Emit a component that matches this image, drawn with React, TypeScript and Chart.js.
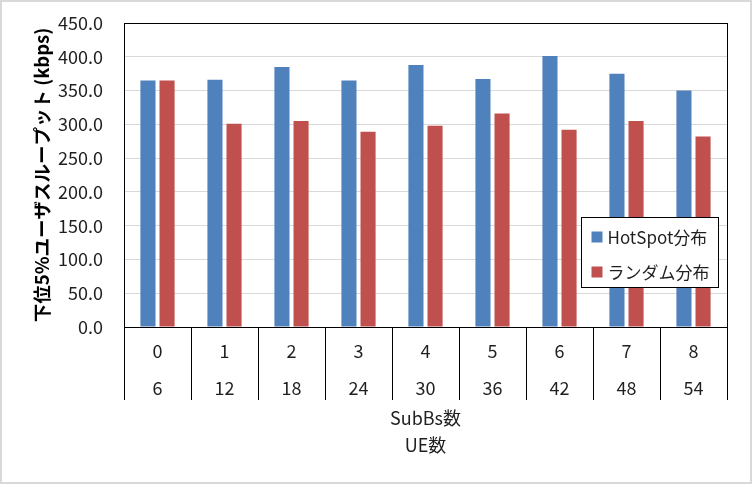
import React, { useEffect, useRef } from 'react'
import { Chart, registerables } from 'chart.js'

Chart.register(...registerables)

const subBsCounts = ['0', '1', '2', '3', '4', '5', '6', '7', '8']
const ueCounts = ['6', '12', '18', '24', '30', '36', '42', '48', '54']
const hotspotValues = [365, 366, 385, 365, 388, 367, 401, 375, 350]
const randomValues = [365, 301, 305, 289, 298, 316, 292, 305, 282]
const seriesNames = ['HotSpot分布', 'ランダム分布']
const seriesColors = ['#4F81BD', '#C0504D']

const FONT = '"Noto Sans CJK JP", "Noto Sans", sans-serif'

// black frame round the plot area, then the legend box inside it
const framePlugin = {
  id: 'frame',
  afterDraw(chart: Chart) {
    const { ctx, chartArea } = chart
    const { left, top, right, bottom } = chartArea
    ctx.save()
    ctx.strokeStyle = '#000'
    ctx.lineWidth = 1
    ctx.strokeRect(Math.round(left) + 0.5, Math.round(top) + 0.5, Math.round(right - left), Math.round(bottom - top))

    const boxW = 137
    const boxH = 70
    const bx = Math.round(right - 9 - boxW) + 0.5
    const by = Math.round(top + 194) + 0.5
    ctx.fillStyle = '#fff'
    ctx.fillRect(bx, by, boxW, boxH)
    ctx.strokeRect(bx, by, boxW, boxH)

    ctx.font = `17px ${FONT}`
    ctx.textBaseline = 'middle'
    ctx.textAlign = 'left'
    chart.data.datasets.forEach((ds, i) => {
      const cy = by + 19 + i * 35
      ctx.fillStyle = ds.backgroundColor as string
      ctx.fillRect(bx + 10, cy - 5, 11, 11)
      ctx.fillStyle = '#1f1f1f'
      ctx.fillText(ds.label ?? '', bx + 26, cy + 1)
    })
    ctx.restore()
  },
}

const App = () => {
  const chartRef = useRef<HTMLCanvasElement>(null)

  useEffect(() => {
    document.body.style.margin = '0'
    if (!chartRef.current) return
    const ctx = chartRef.current.getContext('2d')
    if (!ctx) return

    const chart = new Chart(ctx, {
      type: 'bar',
      data: {
        labels: subBsCounts.map((s, i) => [s, ueCounts[i]]),
        datasets: [
          { label: seriesNames[0], data: hotspotValues, backgroundColor: seriesColors[0] },
          { label: seriesNames[1], data: randomValues, backgroundColor: seriesColors[1] },
        ],
      },
      options: {
        animation: false,
        responsive: false,
        layout: { padding: { left: 0, top: 21, right: 23, bottom: 0 } },
        datasets: {
          bar: { categoryPercentage: 0.57, barPercentage: 0.79 },
        },
        plugins: {
          legend: { display: false },
          tooltip: { enabled: false },
        },
        scales: {
          x: {
            afterFit: (scale) => {
              scale.height = 155
            },
            grid: {
              drawOnChartArea: false,
              drawTicks: true,
              tickLength: 73,
              color: '#000',
            },
            border: { color: '#000' },
            ticks: {
              padding: -67,
              color: '#1f1f1f',
              font: { family: FONT, size: 18, lineHeight: 37 / 18 },
              maxRotation: 0,
              autoSkip: false,
            },
            title: {
              display: true,
              text: ['SubBs数', 'UE数'],
              color: '#1f1f1f',
              font: { family: FONT, size: 18, lineHeight: 27 / 18 },
              padding: { top: 0, bottom: 23.5 },
            },
          },
          y: {
            min: 0,
            max: 450,
            afterFit: (scale) => {
              scale.width = 122
              scale.paddingTop = 0
              scale.paddingBottom = 0
            },
            grid: { color: '#D9D9D9', drawTicks: false },
            border: { color: '#000' },
            ticks: {
              stepSize: 50,
              padding: 21,
              color: '#1f1f1f',
              font: { family: FONT, size: 18 },
              callback: (v) => Number(v).toFixed(1),
            },
            title: {
              display: true,
              text: '下位5%ユーザスループット (kbps)',
              color: '#000',
              font: { family: FONT, size: 18.5, weight: 'bold', lineHeight: 1.2 },
              padding: { top: 29, bottom: 0 },
            },
          },
        },
      },
      plugins: [framePlugin],
    })

    return () => {
      chart.destroy()
    }
  }, [])

  return (
    <div style={{ width: 752, height: 484, border: '2px solid #D9D9D9', boxSizing: 'border-box', background: '#fff' }}>
      <canvas ref={chartRef} width={748} height={480} style={{ display: 'block', width: 748, height: 480 }} />
    </div>
  )
}

export default App
